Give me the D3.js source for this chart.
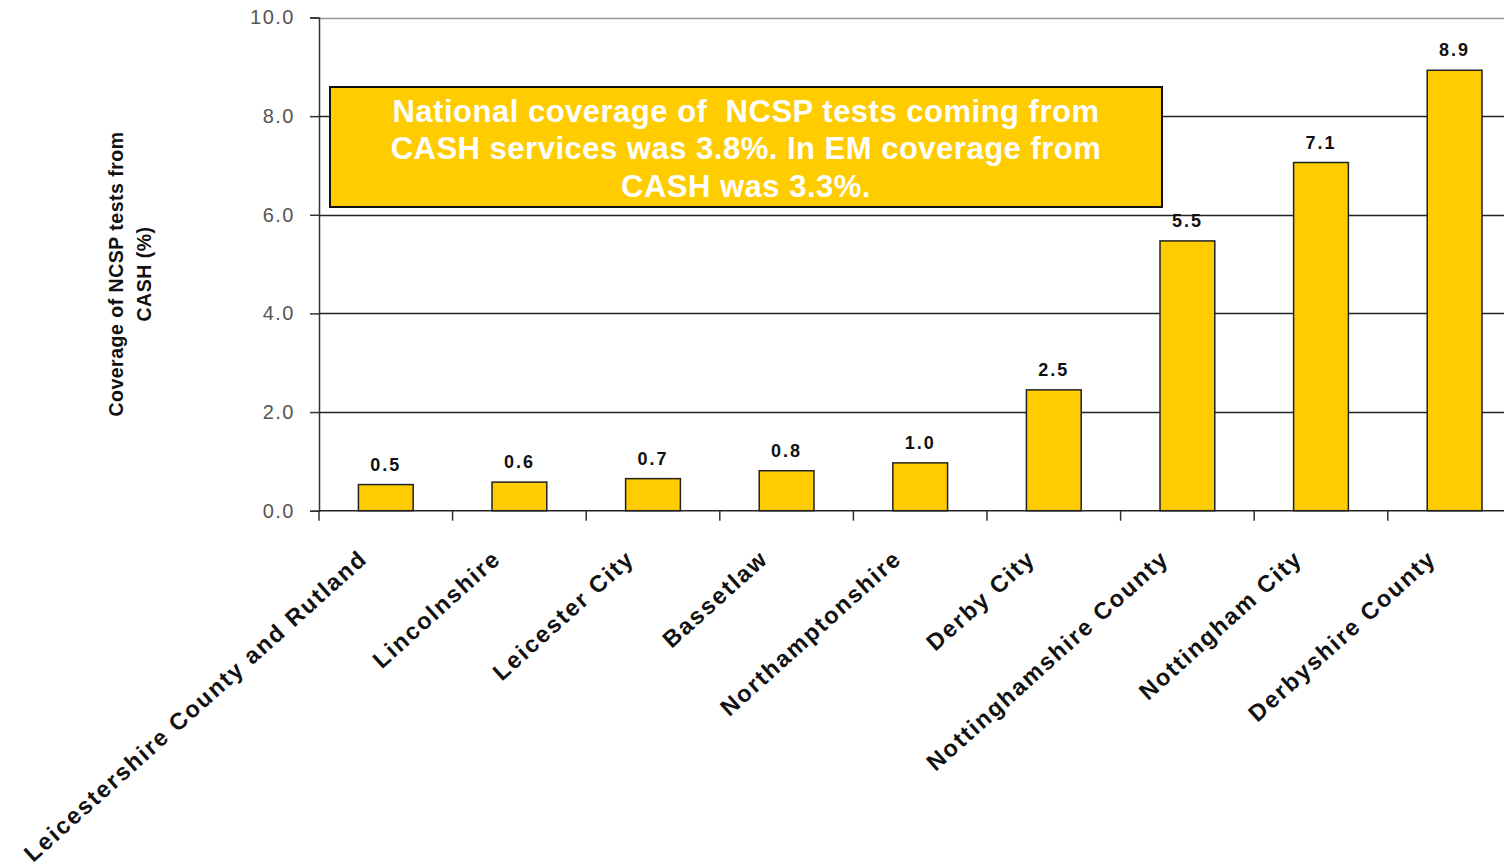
<!DOCTYPE html>
<html>
<head>
<meta charset="utf-8">
<script src="https://cdn.jsdelivr.net/npm/d3@7"></script>
<style>
  html, body { margin: 0; padding: 0; background: #fff; }
  svg { display: block; font-family: "Liberation Sans", Arial, sans-serif; }
</style>
</head>
<body>
<svg id="chart" width="1504" height="867"></svg>
<script>
const categories = ["Leicestershire County and Rutland", "Lincolnshire", "Leicester City", "Bassetlaw",
  "Northamptonshire", "Derby City", "Nottinghamshire County", "Nottingham City", "Derbyshire County"];
const values = [0.53, 0.58, 0.65, 0.81, 0.97, 2.45, 5.47, 7.06, 8.93];
const yTicks = [0, 2, 4, 6, 8, 10];
const yTitleLines = ["Coverage of NCSP tests from", "CASH (%)"];
const noteLines = ["National coverage of  NCSP tests coming from",
  "CASH services was 3.8%. In EM coverage from", "CASH was 3.3%."];

(function () {
const svg = d3.select("#chart");
const mLeft = 319, mTop = 17.5, mBottom = 510.7, step = 133.6;
const mRight = mLeft + step * categories.length;

const x = d3.scaleBand().domain(categories).range([mLeft, mRight]).paddingInner(0.59).paddingOuter(0.295);
const y = d3.scaleLinear().domain([0, 10]).range([mBottom, mTop]);

// gridlines
svg.append("g").selectAll("line").data(yTicks.filter(d => d > 0)).join("line")
  .attr("x1", mLeft).attr("x2", mRight)
  .attr("y1", d => Math.round(y(d)) + 0.5).attr("y2", d => Math.round(y(d)) + 0.5)
  .attr("stroke", d => d === 10 ? "#999" : "#222").attr("stroke-width", 1.3);

// y axis
const yAxis = svg.append("g").attr("transform", `translate(${mLeft},0)`)
  .call(d3.axisLeft(y).tickValues(yTicks).tickFormat(d3.format(".1f")).tickSize(9).tickPadding(15));
yAxis.select(".domain").attr("stroke", "#333").attr("stroke-width", 1.5);
yAxis.selectAll(".tick line").attr("stroke", "#333").attr("stroke-width", 1.5);
yAxis.selectAll(".tick text").attr("font-size", 20).attr("fill", "#555")
  .attr("letter-spacing", "1.5px").attr("font-family", "Liberation Sans, Arial, sans-serif");

// x axis
const xTickPos = d3.range(categories.length + 1).map(i => mLeft + i * step);
svg.append("line").attr("x1", mLeft).attr("x2", mRight).attr("y1", mBottom).attr("y2", mBottom)
  .attr("stroke", "#222").attr("stroke-width", 1.5);
svg.append("g").selectAll("line").data(xTickPos).join("line")
  .attr("x1", d => d).attr("x2", d => d).attr("y1", mBottom).attr("y2", mBottom + 10)
  .attr("stroke", "#333").attr("stroke-width", 1.5);

// bars
svg.append("g").selectAll("rect").data(values).join("rect")
  .attr("x", (d, i) => x(categories[i]))
  .attr("width", x.bandwidth())
  .attr("y", d => y(d))
  .attr("height", d => mBottom - y(d))
  .attr("fill", "#FFCC00").attr("stroke", "#222").attr("stroke-width", 1.5);

// value labels
svg.append("g").selectAll("text").data(values).join("text")
  .attr("x", (d, i) => x(categories[i]) + x.bandwidth() / 2)
  .attr("y", d => y(d) - 14)
  .attr("text-anchor", "middle")
  .attr("font-size", 18).attr("font-weight", "bold").attr("letter-spacing", "2px")
  .attr("fill", "#111")
  .text(d => d3.format(".1f")(d));

// x labels
svg.append("g").selectAll("text").data(categories).join("text")
  .attr("transform", d => `translate(${x(d) + x.bandwidth() / 2 - 17},${mBottom + 50}) rotate(-42)`)
  .attr("text-anchor", "end")
  .attr("font-size", 23.5).attr("font-weight", "bold").attr("letter-spacing", "1.9px")
  .attr("fill", "#111")
  .text(d => d);

// y title
const yt = svg.append("text").attr("transform", "translate(123,274) rotate(-90)")
  .attr("text-anchor", "middle").attr("font-size", 19.5).attr("font-weight", "bold")
  .attr("letter-spacing", "0.5px").attr("fill", "#111");
yt.selectAll("tspan").data(yTitleLines).join("tspan")
  .attr("x", 0).attr("dy", (d, i) => i === 0 ? 0 : 28).text(d => d);

// annotation box
svg.append("rect").attr("x", 330).attr("y", 87).attr("width", 832).attr("height", 120)
  .attr("fill", "#FFCC00").attr("stroke", "#111").attr("stroke-width", 2);
const note = svg.append("text").attr("text-anchor", "middle").attr("font-size", 31)
  .attr("font-weight", "bold").attr("letter-spacing", "0.5px").attr("fill", "#fff").style("white-space", "pre");
note.selectAll("tspan").data(noteLines).join("tspan")
  .attr("x", 746).attr("y", (d, i) => 121.5 + i * 37.5).text(d => d);
})();
</script>
</body>
</html>
